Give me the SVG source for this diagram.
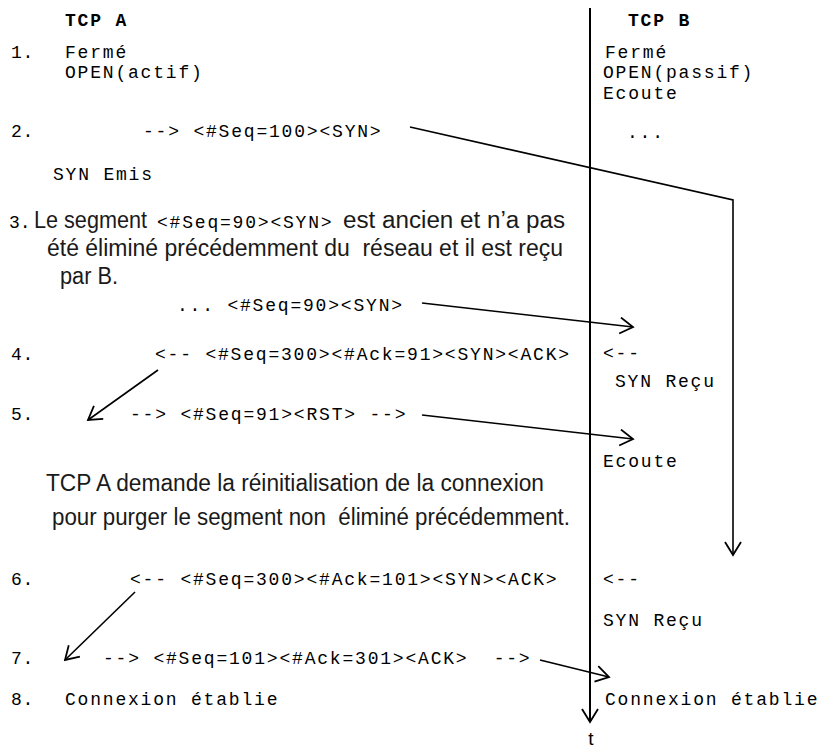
<svg xmlns="http://www.w3.org/2000/svg" width="824" height="751" viewBox="0 0 824 751">
  <style>
    .mono { font-family: "Liberation Mono", "DejaVu Sans Mono", monospace; font-size: 18px; letter-spacing: 1.8px; fill: #000; white-space: pre; }
    .num { letter-spacing: 0.6px; }
    .tight { letter-spacing: 0; }
    .bold { font-weight: bold; }
    .sans { font-family: "Liberation Sans", Arial, sans-serif; font-size: 23px; fill: #1a1a1a; white-space: pre; }
    .wire { fill: none; stroke: #000; stroke-width: 1.6; }
    .axis { fill: none; stroke: #000; stroke-width: 2; }
  </style>
  <defs>
    <marker id="open" viewBox="-14 -9 16 18" refX="0" refY="0" markerWidth="16" markerHeight="18" markerUnits="userSpaceOnUse" orient="auto">
      <path d="M-13,-8 L0,0 L-13,8" fill="none" stroke="#000" stroke-width="1.8"/>
    </marker>
  </defs>

  <rect width="824" height="751" fill="#fff"/>

  <!-- time axis of TCP B -->
  <g id="timeline">
    <line class="axis" x1="590" y1="8" x2="590" y2="722" marker-end="url(#open)"/>
    <text x="591" y="745" text-anchor="middle" style="font-family:'Liberation Sans',Arial,sans-serif;font-size:19px">t</text>
  </g>

  <!-- TCP A side -->
  <g id="tcp-a">
    <text class="mono bold" x="65" y="26">TCP A</text>
    <text class="mono num" x="11" y="58">1.</text>
    <text class="mono" x="65" y="58">Fermé</text>
    <text class="mono" x="65" y="78">OPEN(actif)</text>
  </g>

  <!-- TCP B side -->
  <g id="tcp-b">
    <text class="mono bold" x="628" y="26">TCP B</text>
    <text class="mono" x="605" y="58">Fermé</text>
    <text class="mono" x="603" y="78">OPEN(passif)</text>
    <text class="mono" x="603" y="99">Ecoute</text>
    <text class="mono" x="627" y="138">...</text>
  </g>

  <g id="step2">
    <text class="mono num" x="11" y="137">2.</text>
    <text class="mono" x="143" y="137">--&gt; &lt;#Seq=100&gt;&lt;SYN&gt;</text>
    <text class="mono" x="53" y="180">SYN Emis</text>
  </g>

  <g id="step3">
    <text class="mono tight" x="9" y="228">3.</text>
    <text class="sans" x="34" y="228" textLength="113" lengthAdjust="spacingAndGlyphs">Le segment</text>
    <text class="mono" x="157" y="228">&lt;#Seq=90&gt;&lt;SYN&gt;</text>
    <text class="sans" x="343" y="228" textLength="222" lengthAdjust="spacingAndGlyphs">est ancien et n’a pas</text>
    <text class="sans" x="47" y="256" textLength="516" lengthAdjust="spacingAndGlyphs">été éliminé précédemment du  réseau et il est reçu</text>
    <text class="sans" x="60" y="284" textLength="58" lengthAdjust="spacingAndGlyphs">par B.</text>
    <text class="mono" x="177" y="311">... &lt;#Seq=90&gt;&lt;SYN&gt;</text>
  </g>

  <g id="step4">
    <text class="mono num" x="11" y="360">4.</text>
    <text class="mono" x="155" y="360">&lt;-- &lt;#Seq=300&gt;&lt;#Ack=91&gt;&lt;SYN&gt;&lt;ACK&gt;</text>
    <text class="mono" x="603" y="359">&lt;--</text>
    <text class="mono" x="615" y="387">SYN Reçu</text>
  </g>

  <g id="step5">
    <text class="mono num" x="11" y="420">5.</text>
    <text class="mono" x="130" y="420">--&gt; &lt;#Seq=91&gt;&lt;RST&gt; --&gt;</text>
    <text class="mono" x="603" y="467">Ecoute</text>
  </g>

  <g id="note">
    <text class="sans" x="46" y="491" textLength="498" lengthAdjust="spacingAndGlyphs">TCP A demande la réinitialisation de la connexion</text>
    <text class="sans" x="52" y="525" textLength="518" lengthAdjust="spacingAndGlyphs">pour purger le segment non  éliminé précédemment.</text>
  </g>

  <g id="step6">
    <text class="mono num" x="11" y="585">6.</text>
    <text class="mono" x="130" y="585">&lt;-- &lt;#Seq=300&gt;&lt;#Ack=101&gt;&lt;SYN&gt;&lt;ACK&gt;</text>
    <text class="mono" x="603" y="585">&lt;--</text>
    <text class="mono" x="603" y="626">SYN Reçu</text>
  </g>

  <g id="step7">
    <text class="mono num" x="11" y="664">7.</text>
    <text class="mono" x="103" y="664">--&gt; &lt;#Seq=101&gt;&lt;#Ack=301&gt;&lt;ACK&gt;  --&gt;</text>
  </g>

  <g id="step8">
    <text class="mono num" x="11" y="705">8.</text>
    <text class="mono" x="65" y="705">Connexion établie</text>
    <text class="mono" x="605" y="705">Connexion établie</text>
  </g>

  <!-- segments exchanged between the two hosts -->
  <g id="connectors">
    <polyline class="wire" points="410,127 733,200 733,555" marker-end="url(#open)"/>
    <line class="wire" x1="422" y1="303" x2="633" y2="327" marker-end="url(#open)"/>
    <line class="wire" x1="158" y1="370" x2="88" y2="420" marker-end="url(#open)"/>
    <line class="wire" x1="422" y1="415" x2="633" y2="439" marker-end="url(#open)"/>
    <line class="wire" x1="135" y1="592" x2="65" y2="660" marker-end="url(#open)"/>
    <line class="wire" x1="540" y1="660" x2="609" y2="677" marker-end="url(#open)"/>
  </g>
</svg>
